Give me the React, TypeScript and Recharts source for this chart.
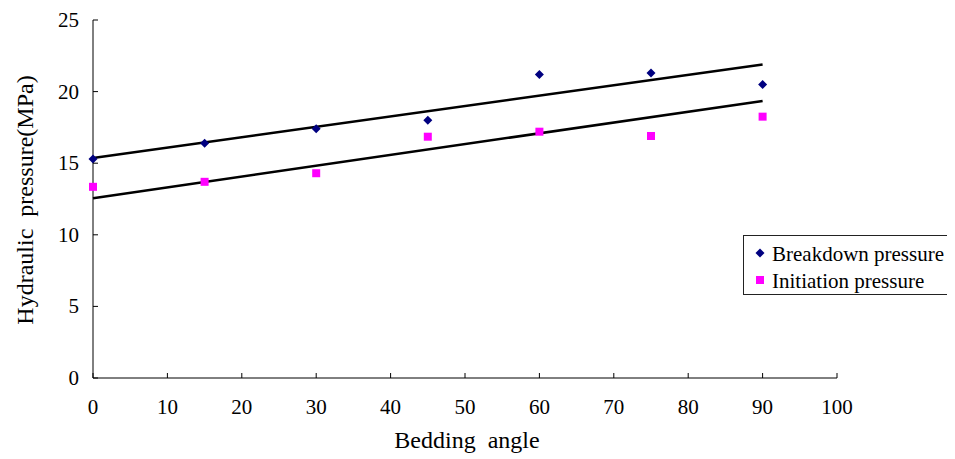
import React from 'react';
import { ComposedChart, XAxis, YAxis, Scatter, Line, Legend } from 'recharts';

const angles = [0, 15, 30, 45, 60, 75, 90];
const breakdownValues = [15.3, 16.4, 17.4, 18.0, 21.2, 21.3, 20.5];
const initiationValues = [13.35, 13.7, 14.3, 16.85, 17.2, 16.9, 18.25];
const trendAngles = [0, 90];
const breakdownTrendValues = [15.37, 21.9];
const initiationTrendValues = [12.56, 19.35];
const xTicks = [0, 10, 20, 30, 40, 50, 60, 70, 80, 90, 100];
const yTicks = [0, 5, 10, 15, 20, 25];

const breakdownData = angles.map((x, i) => ({ x, y: breakdownValues[i] }));
const initiationData = angles.map((x, i) => ({ x, y: initiationValues[i] }));
const breakdownTrend = trendAngles.map((x, i) => ({ x, y: breakdownTrendValues[i] }));
const initiationTrend = trendAngles.map((x, i) => ({ x, y: initiationTrendValues[i] }));

const FONT = '"Liberation Serif", "Times New Roman", serif';
const NAVY = '#000080';
const MAGENTA = '#FF00FF';

const Diamond = (props: any) => {
  const { cx, cy } = props;
  const r = 4.5;
  return <polygon points={`${cx},${cy - r} ${cx + r},${cy} ${cx},${cy + r} ${cx - r},${cy}`} fill={NAVY} />;
};
const Square = (props: any) => {
  const { cx, cy } = props;
  const s = 8;
  return <rect x={cx - s / 2} y={cy - s / 2} width={s} height={s} fill={MAGENTA} />;
};

const XTick = (props: any) => {
  const { x, y, payload } = props;
  return (
    <g>
      <line x1={x} y1={y} x2={x} y2={y - 5} stroke="#000" strokeWidth={1} />
      <text x={x} y={y + 36} textAnchor="middle" fontFamily={FONT} fontSize={21} fill="#000">
        {payload.value}
      </text>
    </g>
  );
};
const YTick = (props: any) => {
  const { x, y, payload } = props;
  return (
    <g>
      <line x1={x} y1={y} x2={x + 5} y2={y} stroke="#000" strokeWidth={1} />
      <text x={x - 14} y={y + 7} textAnchor="end" fontFamily={FONT} fontSize={21} fill="#000">
        {payload.value}
      </text>
    </g>
  );
};

const legendItems = [
  { name: 'Breakdown pressure', kind: 'diamond' },
  { name: 'Initiation pressure', kind: 'square' },
];

const LegendBox = () => (
  <div
    style={{
      width: 211,
      height: 60,
      boxSizing: 'border-box',
      border: '1px solid #222',
      background: '#fff',
      fontFamily: FONT,
      fontSize: 21,
      color: '#000',
      position: 'relative',
    }}
  >
    {legendItems.map((it, i) => (
      <div key={it.name} style={{ position: 'absolute', left: 10, top: 5 + i * 27, height: 26, display: 'flex', alignItems: 'center', whiteSpace: 'nowrap' }}>
        <svg width={12} height={12} style={{ marginRight: 6, position: 'relative', top: -1 }}>
          {it.kind === 'diamond' ? (
            <polygon points="6,1.5 10.5,6 6,10.5 1.5,6" fill={NAVY} />
          ) : (
            <rect x={2} y={2} width={8} height={8} fill={MAGENTA} />
          )}
        </svg>
        <span>{it.name}</span>
      </div>
    ))}
  </div>
);

export default function App() {
  return (
    <ComposedChart width={947} height={451} margin={{ top: 12, right: 118, bottom: 0, left: 0 }}>
      <XAxis
        type="number"
        dataKey="x"
        domain={[0, 100]}
        ticks={xTicks}
        interval={0}
        tickSize={0}
        tickMargin={0}
        tick={<XTick />}
        tickLine={false}
        height={81}
        stroke="#000"
        label={(p: any) => {
          const vb = p.viewBox || {};
          return (
            <text x={vb.x + vb.width / 2 + 2} y={vb.y + 70} textAnchor="middle" fontFamily={FONT} fontSize={24} style={{ wordSpacing: 6 }} fill="#000">
              Bedding angle
            </text>
          );
        }}
      />
      <YAxis
        type="number"
        dataKey="y"
        domain={[0, 25]}
        ticks={yTicks}
        interval={0}
        tickSize={0}
        tickMargin={0}
        tick={<YTick />}
        tickLine={false}
        width={85}
        stroke="#000"
        label={(p: any) => {
          const vb = p.viewBox || {};
          const cx = 24.5;
          const cy = vb.y + vb.height / 2 + 1;
          return (
            <text x={cx} y={cy} transform={`rotate(-90 ${cx} ${cy})`} textAnchor="middle" fontFamily={FONT} fontSize={24} style={{ wordSpacing: 6 }} fill="#000">
              Hydraulic pressure(MPa)
            </text>
          );
        }}
      />
      <Line data={breakdownTrend} dataKey="y" stroke="#000" strokeWidth={2.5} dot={false} isAnimationActive={false} legendType="none" />
      <Line data={initiationTrend} dataKey="y" stroke="#000" strokeWidth={2.5} dot={false} isAnimationActive={false} legendType="none" />
      <Scatter name="Breakdown pressure" data={breakdownData} dataKey="y" shape={<Diamond />} fill={NAVY} isAnimationActive={false} />
      <Scatter name="Initiation pressure" data={initiationData} dataKey="y" shape={<Square />} fill={MAGENTA} isAnimationActive={false} />
      <Legend
        layout="vertical"
        align="center"
        verticalAlign="middle"
        content={<LegendBox />}
        wrapperStyle={{ left: 735, top: 227, width: 211, height: 60 }}
      />
    </ComposedChart>
  );
}
